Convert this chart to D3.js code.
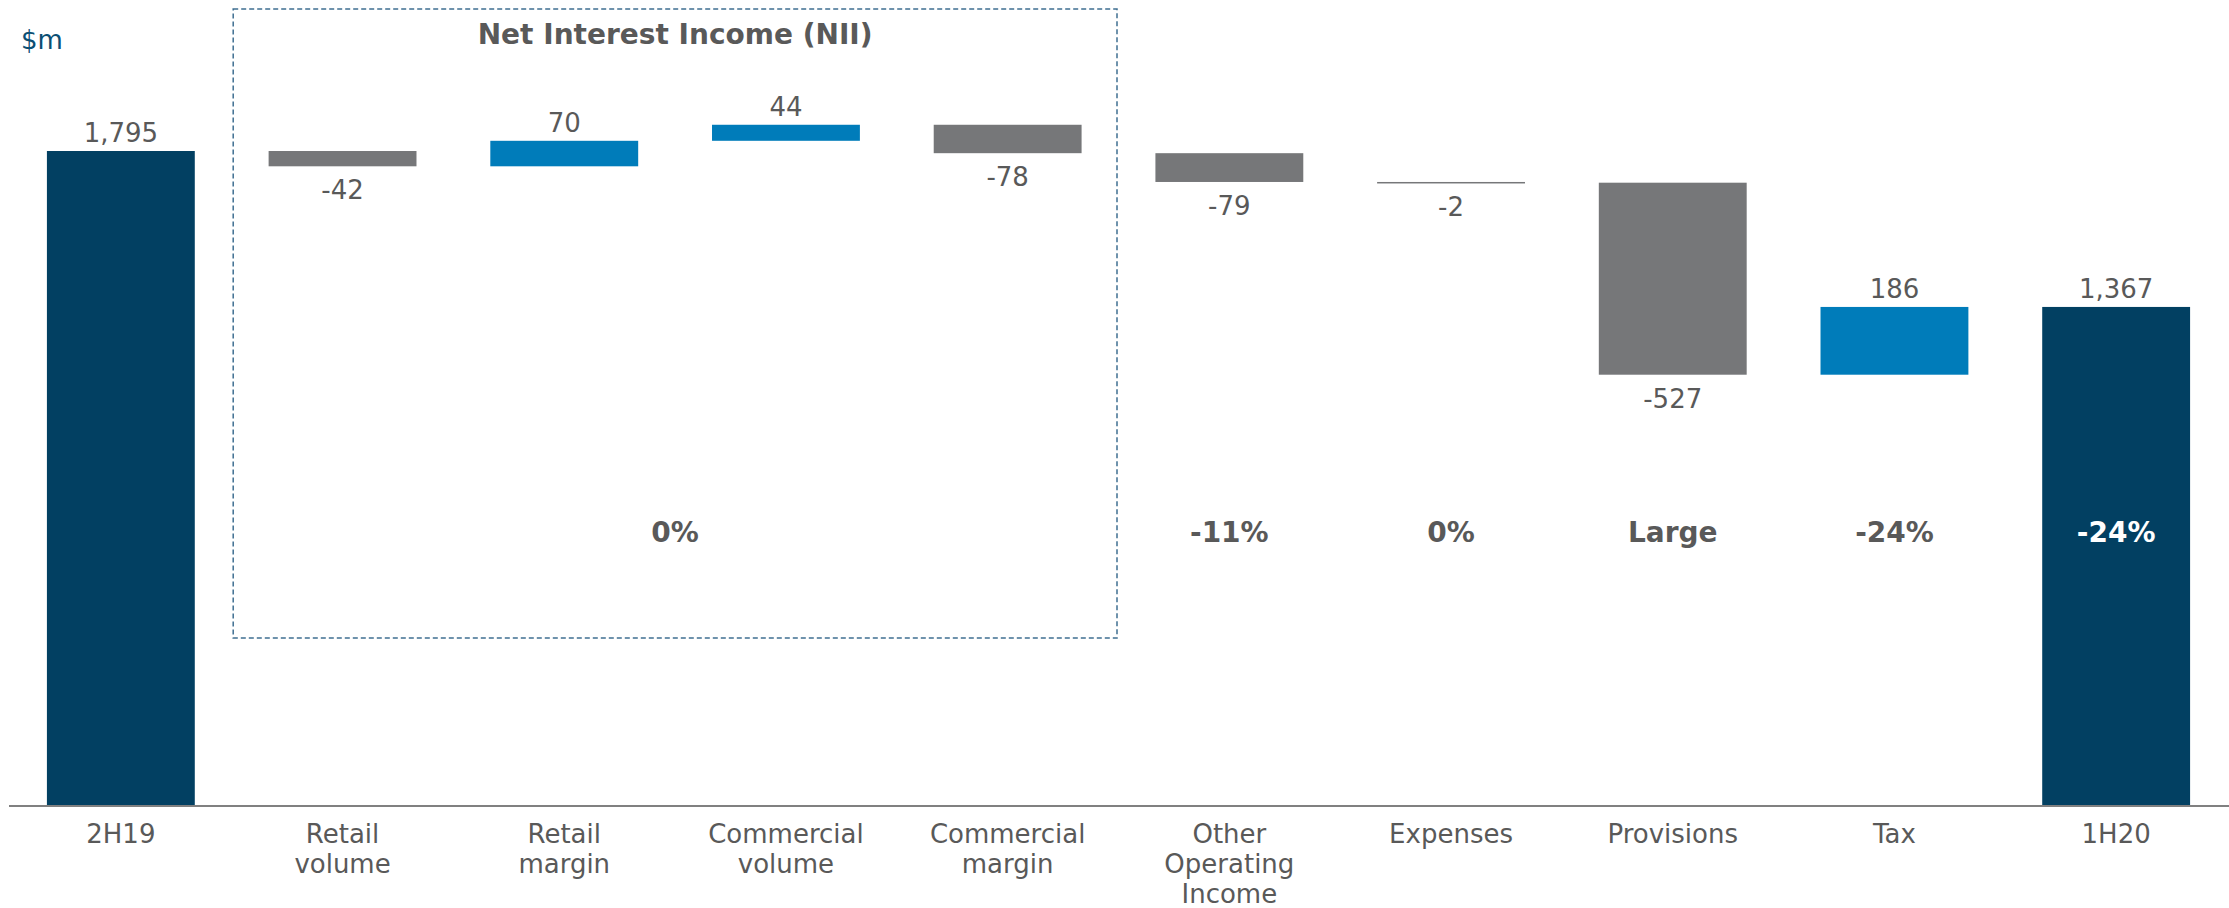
<!DOCTYPE html>
<html>
<head>
<meta charset="utf-8">
<script src="https://cdn.jsdelivr.net/npm/d3@7/dist/d3.min.js"></script>
<style>
  html, body { margin: 0; padding: 0; background: #fff; }
  svg { display: block; font-family: "DejaVu Sans", Verdana, sans-serif; }
</style>
</head>
<body>
<svg id="chart" width="2229" height="908"></svg>
<script>
'use strict';

/* ── Data ── */
const categories = ['2H19', 'Retail volume', 'Retail margin', 'Commercial volume', 'Commercial margin',
  'Other Operating Income', 'Expenses', 'Provisions', 'Tax', '1H20'];
const labelLines = [['2H19'], ['Retail', 'volume'], ['Retail', 'margin'], ['Commercial', 'volume'],
  ['Commercial', 'margin'], ['Other', 'Operating', 'Income'], ['Expenses'], ['Provisions'], ['Tax'], ['1H20']];
const values = [1795, -42, 70, 44, -78, -79, -2, -527, 186, 1367];
const kinds = ['total', 'delta', 'delta', 'delta', 'delta', 'delta', 'delta', 'delta', 'delta', 'total'];
const valueLabels = ['1,795', '-42', '70', '44', '-78', '-79', '-2', '-527', '186', '1,367'];
// percentage change row: [label, first category, last category]
const pctLabels = [
  ['0%', 'Retail margin', 'Commercial volume'],
  ['-11%', 'Other Operating Income', 'Other Operating Income'],
  ['0%', 'Expenses', 'Expenses'],
  ['Large', 'Provisions', 'Provisions'],
  ['-24%', 'Tax', 'Tax'],
  ['-24%', '1H20', '1H20']
];
const niiGroup = ['Retail volume', 'Commercial margin'];
const niiTitle = 'Net Interest Income (NII)';
const unitLabel = '$m';

/* ── Colours ── */
const NAVY = '#024062';
const BLUE = '#007cba';
const GREY = '#767779';
const TEXT = '#595959';

/* ── Waterfall steps ── */
let running = 0;
const bars = values.map((v, i) => {
  let y0, y1;
  if (kinds[i] === 'total') { y0 = 0; y1 = v; running = v; }
  else { y0 = running; y1 = running + v; running = y1; }
  return { cat: categories[i], lines: labelLines[i], v, y0, y1, kind: kinds[i], label: valueLabels[i] };
});

const svg = d3.select('#chart');

const x = d3.scaleBand()
  .domain(categories)
  .range([10, 2227])
  .paddingInner(0.333)
  .paddingOuter(0.1665);

const y = d3.scaleLinear()
  .domain([0, 1795])
  .range([805, 151]);

const cx = c => x(c) + x.bandwidth() / 2;

/* ── NII dashed box ── */
const gap = x.step() - x.bandwidth();
const boxL = x(niiGroup[0]) - gap / 2;
const boxR = x(niiGroup[1]) + x.bandwidth() + gap / 2;
svg.append('rect')
  .attr('x', boxL + 1.5)
  .attr('y', 9)
  .attr('width', boxR - boxL - 3)
  .attr('height', 629)
  .attr('fill', 'none')
  .attr('stroke', '#3f6f91')
  .attr('stroke-width', 1.5)
  .attr('stroke-dasharray', '5,3');

svg.append('text')
  .attr('x', (boxL + boxR) / 2)
  .attr('y', 44)
  .attr('text-anchor', 'middle')
  .attr('font-size', 28)
  .attr('font-weight', 'bold')
  .attr('fill', TEXT)
  .text(niiTitle);

/* ── Unit ── */
svg.append('text')
  .attr('x', 21)
  .attr('y', 49)
  .attr('font-size', 26)
  .attr('fill', '#0b4f74')
  .text(unitLabel);

/* ── Bars ── */
const colorOf = d => d.kind === 'total' ? NAVY : (d.v >= 0 ? BLUE : GREY);

svg.append('g')
  .selectAll('rect')
  .data(bars)
  .join('rect')
  .attr('x', d => x(d.cat))
  .attr('width', x.bandwidth())
  .attr('y', d => y(Math.max(d.y0, d.y1)))
  .attr('height', d => Math.max(1.5, Math.abs(y(d.y0) - y(d.y1))))
  .attr('fill', d => colorOf(d));

/* ── Value labels ── */
svg.append('g')
  .selectAll('text')
  .data(bars)
  .join('text')
  .attr('x', d => cx(d.cat))
  .attr('y', d => d.v >= 0 ? y(Math.max(d.y0, d.y1)) - 9 : y(Math.min(d.y0, d.y1)) + 33)
  .attr('text-anchor', 'middle')
  .attr('font-size', 26)
  .attr('fill', TEXT)
  .text(d => d.label);

/* ── Percentage row ── */
svg.append('g')
  .selectAll('text')
  .data(pctLabels)
  .join('text')
  .attr('x', d => (cx(d[1]) + cx(d[2])) / 2)
  .attr('y', 542)
  .attr('text-anchor', 'middle')
  .attr('font-size', 28)
  .attr('font-weight', 'bold')
  .attr('fill', d => d[2] === '1H20' ? '#ffffff' : TEXT)
  .text(d => d[0]);

/* ── Axis ── */
svg.append('line')
  .attr('x1', 9).attr('x2', 2229)
  .attr('y1', y(0) + 1).attr('y2', y(0) + 1)
  .attr('stroke', '#808080')
  .attr('stroke-width', 2);

const catText = svg.append('g')
  .selectAll('text')
  .data(bars)
  .join('text')
  .attr('text-anchor', 'middle')
  .attr('font-size', 26)
  .attr('fill', TEXT);

catText.selectAll('tspan')
  .data(d => d.lines.map(l => ({ l, c: d.cat })))
  .join('tspan')
  .attr('x', d => cx(d.c))
  .attr('y', (d, i) => 843 + i * 30)
  .text(d => d.l);
</script>
</body>
</html>
